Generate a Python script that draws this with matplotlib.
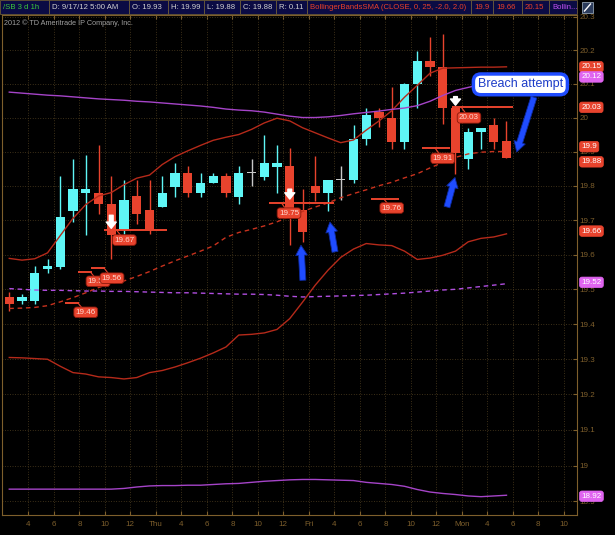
import numpy as np
import matplotlib.pyplot as plt
from matplotlib.patches import Rectangle
import matplotlib.transforms as mtransforms

plt.rcParams['font.family'] = ['Liberation Sans', 'DejaVu Sans']

# /SB 3 day 1 hour bars
opens = [19.478, 19.467, 19.467, 19.557, 19.565, 19.727, 19.778, 19.779, 19.748, 19.671,
         19.770, 19.729, 19.737, 19.797, 19.838, 19.778, 19.807, 19.828, 19.768, 19.838,
         19.826, 19.855, 19.857, 19.729, 19.799, 19.779, 19.816, 19.816, 19.938, 20.017,
         19.999, 19.927, 20.099, 20.168, 20.149, 20.027, 19.877, 19.958, 19.978, 19.93]
highs = [19.493, 19.486, 19.567, 19.587, 19.828, 19.878, 19.889, 19.919, 19.829, 19.816,
         19.818, 19.816, 19.828, 19.867, 19.857, 19.838, 19.838, 19.838, 19.857, 19.877,
         19.948, 19.919, 19.909, 19.791, 19.887, 19.818, 19.857, 19.978, 20.027, 20.027,
         20.091, 20.102, 20.198, 20.240, 20.248, 20.032, 19.968, 19.968, 19.998, 19.99]
lows = [19.438, 19.457, 19.457, 19.547, 19.557, 19.695, 19.658, 19.719, 19.586, 19.659,
        19.690, 19.659, 19.737, 19.768, 19.768, 19.768, 19.807, 19.768, 19.746, 19.799,
        19.816, 19.778, 19.627, 19.637, 19.756, 19.727, 19.758, 19.807, 19.918, 19.973,
        19.906, 19.906, 20.027, 20.124, 19.981, 19.834, 19.848, 19.906, 19.906, 19.88]
closes = [19.457, 19.478, 19.547, 19.567, 19.709, 19.789, 19.789, 19.748, 19.656, 19.758,
          19.717, 19.671, 19.779, 19.838, 19.778, 19.807, 19.828, 19.778, 19.838, 19.838,
          19.867, 19.867, 19.729, 19.666, 19.779, 19.818, 19.816, 19.938, 20.007, 19.998,
          19.927, 20.099, 20.168, 20.149, 20.027, 19.896, 19.958, 19.968, 19.927, 19.88]

# BollingerBandsSMA (red)
bb_upper = [19.589, 19.584, 19.588, 19.605, 19.655, 19.705, 19.745, 19.770, 19.780, 19.803,
            19.822, 19.831, 19.862, 19.885, 19.902, 19.918, 19.933, 19.942, 19.950, 19.965,
            19.984, 19.998, 19.990, 19.970, 19.955, 19.940, 19.926, 19.934, 19.963, 19.990,
            20.020, 20.060, 20.095, 20.131, 20.146, 20.147, 20.148, 20.149, 20.149, 20.150]
bb_mid = [19.445, 19.446, 19.448, 19.453, 19.464, 19.476, 19.490, 19.505, 19.517, 19.524,
          19.537, 19.551, 19.567, 19.582, 19.596, 19.610, 19.625, 19.650, 19.664, 19.673,
          19.683, 19.695, 19.710, 19.725, 19.738, 19.750, 19.765, 19.777, 19.788, 19.800,
          19.810, 19.823, 19.835, 19.852, 19.868, 19.883, 19.893, 19.898, 19.900, 19.900]
bb_lower = [19.305, 19.304, 19.302, 19.300, 19.280, 19.262, 19.258, 19.250, 19.248, 19.244,
            19.248, 19.262, 19.268, 19.278, 19.290, 19.303, 19.318, 19.335, 19.369, 19.371,
            19.375, 19.385, 19.416, 19.463, 19.512, 19.555, 19.592, 19.616, 19.632, 19.628,
            19.626, 19.610, 19.586, 19.590, 19.598, 19.610, 19.637, 19.647, 19.651, 19.660]

# second Bollinger study (purple)
bb2_upper = [20.075, 20.072, 20.069, 20.066, 20.064, 20.061, 20.058, 20.055, 20.053, 20.051,
             20.048, 20.046, 20.043, 20.040, 20.037, 20.034, 20.030, 20.025, 20.022, 20.020,
             20.016, 20.010, 20.004, 20.000, 20.000, 20.002, 20.006, 20.011, 20.015, 20.019,
             20.024, 20.028, 20.035, 20.048, 20.065, 20.080, 20.089, 20.098, 20.108, 20.118]
bb2_mid = [19.502, 19.500, 19.498, 19.497, 19.497, 19.496, 19.495, 19.495, 19.494, 19.494,
           19.493, 19.492, 19.491, 19.490, 19.490, 19.489, 19.488, 19.487, 19.486, 19.486,
           19.485, 19.483, 19.480, 19.478, 19.479, 19.480, 19.481, 19.482, 19.483, 19.485,
           19.487, 19.489, 19.492, 19.495, 19.498, 19.500, 19.504, 19.508, 19.512, 19.516]
bb2_lower = [18.934, 18.934, 18.934, 18.934, 18.934, 18.934, 18.934, 18.934, 18.934, 18.936,
             18.940, 18.943, 18.944, 18.944, 18.945, 18.945, 18.947, 18.949, 18.950, 18.953,
             18.956, 18.958, 18.960, 18.961, 18.961, 18.960, 18.959, 18.958, 18.953, 18.950,
             18.947, 18.942, 18.933, 18.926, 18.922, 18.919, 18.915, 18.913, 18.915, 18.917]

xtick_labels = ['4', '6', '8', '10', '12', 'Thu', '4', '6', '8', '10', '12', 'Fri',
                '4', '6', '8', '10', '12', 'Mon', '4', '6', '8', '10']
ytick_vals = [18.9, 19.0, 19.1, 19.2, 19.3, 19.4, 19.5, 19.6, 19.7, 19.8, 19.9, 20.0,
              20.1, 20.2, 20.3]

# price level markers
level_vals = [19.46, 19.55, 19.56, 19.67, 19.75, 19.76, 19.91, 20.03]
level_spans = [(4.4, 5.5), (5.4, 6.5), (6.4, 7.5), (7.4, 12.4), (20.4, 25.5),
               (28.4, 30.6), (32.4, 34.6), (34.7, 39.5)]

header_texts = ['/SB 3 d 1h', 'D: 9/17/12 5:00 AM', 'O: 19.93', 'H: 19.99', 'L: 19.88',
                'C: 19.88', 'R: 0.11', 'BollingerBandsSMA (CLOSE, 0, 25, -2.0, 2.0)',
                '19.9', '19.66', '20.15', 'Bollin...']

UP = '#5ff6f6'
DOWN = '#e8432d'
DOJI = '#c8c8c8'
BAND = '#b52a1a'
PURP = '#a544c8'
AXC = '#7e5f2c'
LVL = '#e8432d'

W, H = 615, 535
fig = plt.figure(figsize=(W / 100, H / 100), dpi=100, facecolor='black')
ax = fig.add_axes([2 / W, 20 / H, 575 / W, 500 / H], facecolor='black')
ax.set_yscale('log')

idx = np.arange(len(opens))
o = np.array(opens)
c = np.array(closes)
cols = np.where(c > o, UP, np.where(c < o, DOWN, DOJI))
ax.vlines(idx, lows, highs, colors=cols, lw=1, zorder=2)
ax.bar(idx, np.maximum(np.abs(c - o), 0.0025), 0.72, bottom=np.minimum(o, c),
       color=cols, lw=0, zorder=2)

ax.plot(idx, bb_upper, color=BAND, lw=1, zorder=3)
ax.plot(idx, bb_mid, color='#c8321e', lw=1, ls=(0, (3.3, 2.7)), zorder=3)
ax.plot(idx, bb_lower, color=BAND, lw=1, zorder=3)
ax.plot(idx, bb2_upper, color=PURP, lw=1, zorder=3)
ax.plot(idx, bb2_mid, color='#b04ee0', lw=1, ls=(0, (3.3, 2.7)), zorder=3)
ax.plot(idx, bb2_lower, color=PURP, lw=1, zorder=3)

ax.set_xlim(-0.57, 44.53)
ax.set_ylim(18.862, 20.3045)
ax.set_xticks(1.5 + 2 * np.arange(len(xtick_labels)), xtick_labels)
ax.set_yticks(ytick_vals, [f'{v:g}' for v in ytick_vals])
ax.minorticks_off()
ax.yaxis.tick_right()
ax.tick_params(axis='both', direction='in', length=3, width=0.8, color=AXC,
               labelcolor=AXC, labelsize=5.8)
ax.tick_params(axis='x', top=True, pad=4)
ax.tick_params(axis='y', right=True, left=False, pad=1.5)
for sp in ax.spines.values():
    sp.set_color(AXC)
    sp.set_linewidth(0.8)
ax.grid(True, color='#4a3b1e', ls=(0, (0.8, 1.8)), lw=0.7)

# level lines with callouts
label_pos = [(6.0, 19.434), (6.96, 19.523), (8.06, 19.532), (9.03, 19.642),
             (21.94, 19.72), (30.0, 19.735), (34.0, 19.88), (36.06, 19.999)]
for k, (v, (s, e), (lx, ly)) in enumerate(zip(level_vals, level_spans, label_pos)):
    ax.hlines(v, s, e, color=LVL, lw=1.4, zorder=4)
    ax.plot([lx - 0.6, lx], [v, ly], color=LVL, lw=0.8, zorder=4)
    ax.text(lx, ly, f'{v:.2f}', ha='center', va='center', fontsize=5.8, color='#ffd8cf',
            zorder=6 + k,
            bbox=dict(boxstyle='round,pad=0.22,rounding_size=0.35', fc=LVL,
                      ec='#8c1a0c', lw=0.6))

# white down arrows
for bx, top, tip in [(8, 19.722, 19.668), (22, 19.798, 19.753), (35, 20.070, 20.028)]:
    ax.annotate('', xy=(bx, tip), xytext=(bx, top), zorder=15,
                arrowprops=dict(arrowstyle='simple,head_length=0.5,head_width=0.8,tail_width=0.3',
                                fc='white', ec='white', mutation_scale=9))

# blue hand-drawn arrows
for (tx, tv), (hx, hv) in [((23.03, 19.526), (22.88, 19.627)),
                           ((25.55, 19.608), (25.15, 19.694)),
                           ((34.33, 19.738), (34.96, 19.824)),
                           ((41.15, 20.06), (39.8, 19.899))]:
    ax.annotate('', xy=(hx, hv), xytext=(tx, tv), zorder=15,
                arrowprops=dict(arrowstyle='simple,head_length=0.6,head_width=0.7,tail_width=0.36',
                                fc='#1f4cff', ec='#0d2aa0', lw=0.6, mutation_scale=12,
                                shrinkA=0, shrinkB=0))

ax.text(40.09, 20.098, 'Breach attempt', ha='center', va='center', fontsize=9,
        color='#1c3cc8', zorder=20,
        bbox=dict(boxstyle='round,pad=0.35,rounding_size=0.6', fc='white',
                  ec='#1f4cff', lw=2.5))

# value tags on the price axis
trans = mtransforms.blended_transform_factory(ax.transAxes, ax.transData)
tags = [(20.15, DOWN, 0), (20.12, '#e064f0', 0), (20.03, DOWN, 0), (19.9, DOWN, 3.5),
        (19.88, DOWN, -2.5), (19.66, DOWN, 2), (19.52, '#e064f0', 0), (18.92, '#e064f0', -1.5)]
for v, fc, dy in tags:
    ax.annotate(f'{v:g}', xy=(1.0075, v), xycoords=trans, xytext=(0, dy),
                textcoords='offset points', ha='left', va='center', fontsize=5.8,
                color='white', zorder=30, annotation_clip=False,
                bbox=dict(boxstyle='round,pad=0.22,rounding_size=0.3', fc=fc, ec=fc, lw=0.5))

# header bar
edges = [0, 49, 129, 168, 204, 240, 276, 307, 471, 493, 522, 549, 577]
hcols = ['#3cc83c'] + ['#d0d0d0'] * 6 + ['#e8402a'] * 4 + ['#c050f0']
for i, (txt, col) in enumerate(zip(header_texts, hcols)):
    x0, x1 = edges[i], edges[i + 1]
    fig.patches.append(Rectangle((x0 / W, 1 - 14 / H), (x1 - x0) / W, 14 / H,
                                 transform=fig.transFigure, fc='#0b0b44', ec='#6b5b3b',
                                 lw=0.6))
    fig.text((x0 + 3) / W, 1 - 7.5 / H, txt, color=col, fontsize=5.6, va='center', ha='left')
fig.patches.append(Rectangle((582 / W, 1 - 13 / H), 11 / W, 11 / H, transform=fig.transFigure,
                             fc='#2c3c5c', ec='#90a0b0', lw=0.6))
fig.lines.append(plt.Line2D([584.5 / W, 590.5 / W], [1 - 11 / H, 1 - 4 / H],
                            transform=fig.transFigure, color='white', lw=1))
fig.text(4 / W, 1 - 23 / H, '2012 \u00a9 TD Ameritrade IP Company, Inc.', fontsize=5.2,
         color='#a0a0a0', va='center', ha='left')

fig.savefig('out.png', dpi=100, facecolor='black')
